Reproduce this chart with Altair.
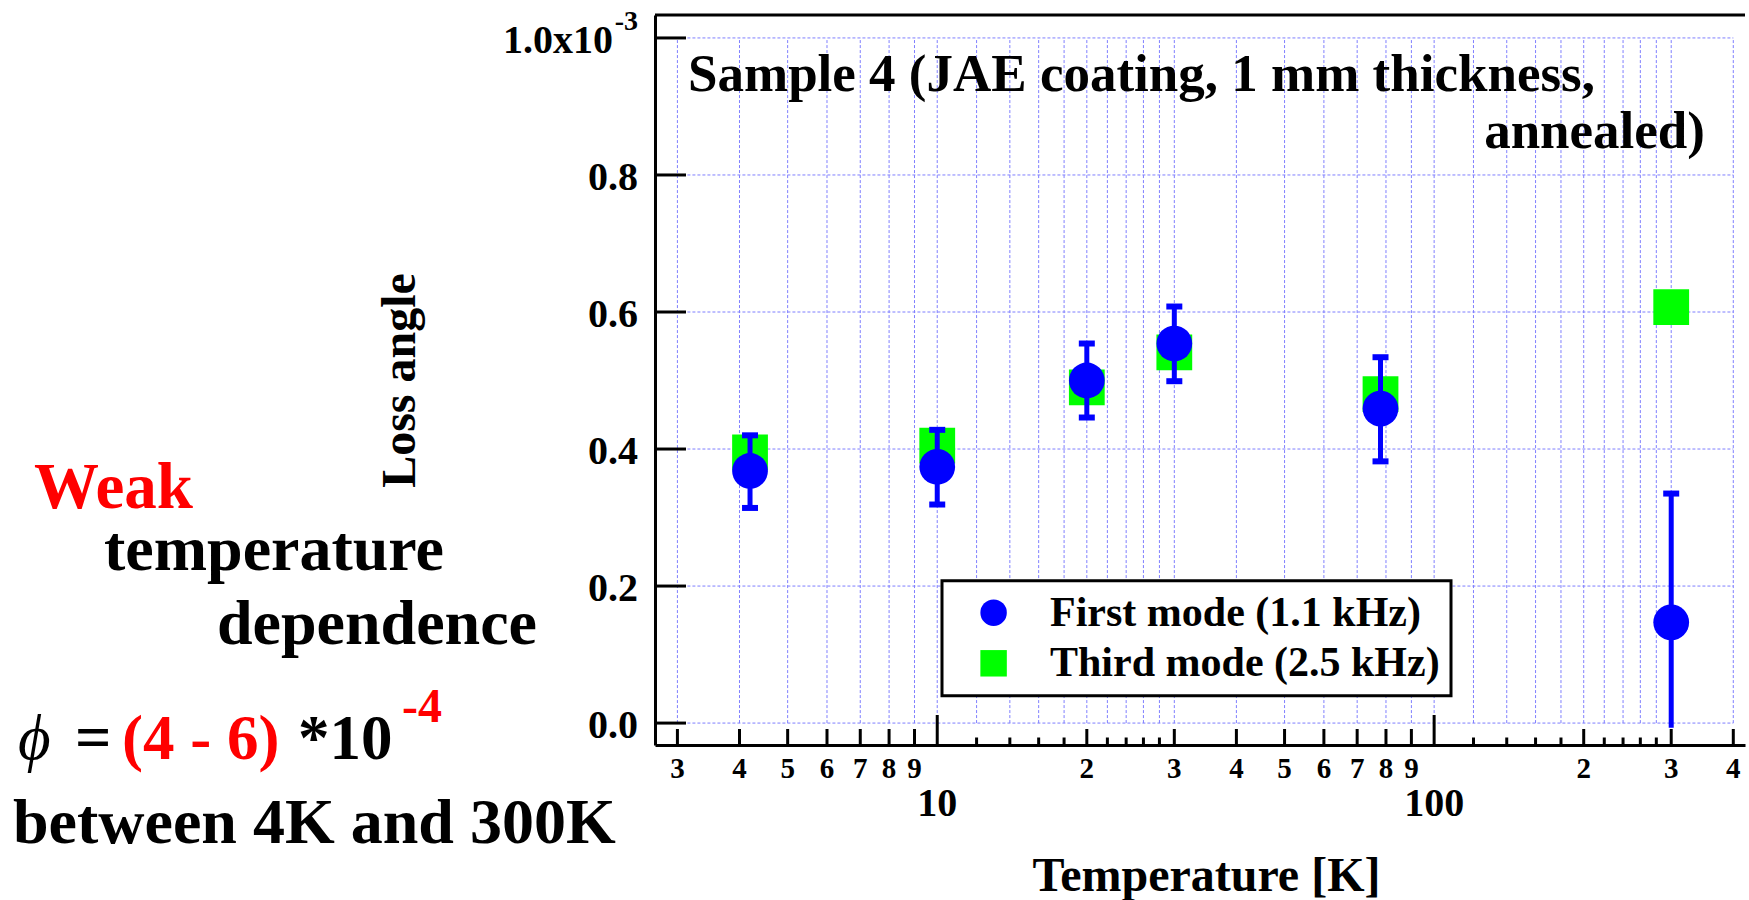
import altair as alt
import pandas as pd

# ---- measured data: loss angle (x 1e-3) versus temperature ----
temperature_k = [4.2, 10, 20, 30, 78, 300]
first_mode = [0.368, 0.374, 0.500, 0.554, 0.459, 0.147]
first_upper = [0.420, 0.428, 0.554, 0.608, 0.534, 0.335]
first_lower = [0.314, 0.319, 0.446, 0.499, 0.382, -0.007]
first_lower_cap = [True, True, True, True, True, False]
third_mode = [0.395, 0.405, 0.490, 0.541, 0.480, 0.607]

series_names = ["First mode (1.1 kHz)", "Third mode (2.5 kHz)"]
series_colors = ["#0000ff", "#00ff00"]
series_shapes = ["circle", "square"]

# ---- axis tick layout (log x axis, linear y axis) ----
decade_ticks = [10, 100]
decade_labels = ["10", "100"]
digit_ticks = [3, 4, 5, 6, 7, 8, 9, 20, 30, 40, 50, 60, 70, 80, 90, 200, 300, 400]
digit_labels = ["3", "4", "5", "6", "7", "8", "9", "2", "3", "4", "5", "6",
                "7", "8", "9", "2", "3", "4"]
fine_ticks = [12, 14, 16, 18, 22, 24, 26, 28, 120, 140, 160, 180, 220, 240, 260, 280]
y_ticks = [0.0, 0.2, 0.4, 0.6, 0.8, 1.0]
y_tick_labels = ["0.0", "0.2", "0.4", "0.6", "0.8"]

W, H = 1090, 730
FONT = "Liberation Serif"
GRID = "#7f7fff"

points = pd.DataFrame({
    "T": temperature_k + temperature_k,
    "loss": third_mode + first_mode,
    "series": [series_names[1]] * len(third_mode) + [series_names[0]] * len(first_mode),
})
errors = pd.DataFrame({"T": temperature_k, "lo": first_lower, "hi": first_upper,
                       "cap": first_lower_cap})
all_x_ticks = pd.DataFrame({"v": decade_ticks + digit_ticks + fine_ticks})
decade_df = pd.DataFrame({"v": decade_ticks, "lab": decade_labels})
digit_df = pd.DataFrame({"v": digit_ticks, "lab": digit_labels})
fine_df = pd.DataFrame({"v": fine_ticks})
y_tick_df = pd.DataFrame({"v": y_ticks})
y_lab_df = pd.DataFrame({"v": y_ticks[:-1], "lab": y_tick_labels})
one = pd.DataFrame({"a": [0]})

xs = alt.Scale(type="log", domain=[2.704, 422.3], nice=False)
ys = alt.Scale(domain=[-0.032, 1.0335], nice=False, zero=False)

x_axis = alt.Axis(title="Temperature [K]", labels=False, ticks=False, grid=False,
                  domain=True, domainColor="black", domainWidth=3,
                  titleFont=FONT, titleFontWeight="bold", titleFontSize=48,
                  titleColor="black", titleX=551, titleY=145,
                  titleBaseline="alphabetic", titleAlign="center")
y_axis = alt.Axis(title="Loss angle", labels=False, ticks=False, grid=False,
                  domain=True, domainColor="black", domainWidth=3,
                  titleFont=FONT, titleFontWeight="bold", titleFontSize=48,
                  titleColor="black", titleX=-241, titleY=365, titleAngle=270,
                  titleBaseline="alphabetic", titleAlign="center")


def X(field, **kw):
    return alt.X(field, type="quantitative", scale=xs, axis=x_axis, **kw)


def Y(field, **kw):
    return alt.Y(field, type="quantitative", scale=ys, axis=y_axis, **kw)


# dashed grid spanning the tick range only
v_grid = alt.Chart(all_x_ticks).mark_rule(color=GRID, strokeWidth=1, strokeDash=[3, 2]).encode(
    x=X("v"), y=alt.Y(datum=0.0, scale=ys, axis=y_axis), y2=alt.Y2(datum=1.0))
h_grid = alt.Chart(y_tick_df).mark_rule(color=GRID, strokeWidth=1, strokeDash=[3, 2]).encode(
    y=Y("v"), x=alt.X(datum=3, scale=xs, axis=x_axis), x2=alt.X2(datum=400))

# inward tick marks
tick_style = dict(color="black", strokeWidth=3)
x_major = alt.Chart(decade_df).mark_rule(**tick_style).encode(
    x=X("v"), y=alt.value(H), y2=alt.value(H - 30))
x_digit = alt.Chart(digit_df).mark_rule(**tick_style).encode(
    x=X("v"), y=alt.value(H), y2=alt.value(H - 16))
x_fine = alt.Chart(fine_df).mark_rule(**tick_style).encode(
    x=X("v"), y=alt.value(H), y2=alt.value(H - 7.5))
y_major = alt.Chart(y_tick_df).mark_rule(**tick_style).encode(
    y=Y("v"), x=alt.value(0), x2=alt.value(31))

# top frame line
top_frame = alt.Chart(one).mark_rule(color="black", strokeWidth=3).encode(
    x=alt.value(0), x2=alt.value(W), y=alt.value(0))

# tick labels
lab_style = dict(font=FONT, fontWeight="bold", color="black")
x_digit_lab = alt.Chart(digit_df).mark_text(fontSize=29, align="center",
                                            baseline="alphabetic", **lab_style).encode(
    x=X("v"), y=alt.value(763.3), text="lab:N")
x_decade_lab = alt.Chart(decade_df).mark_text(fontSize=40, align="center",
                                              baseline="alphabetic", **lab_style).encode(
    x=X("v"), y=alt.value(800.5), text="lab:N")
y_lab = alt.Chart(y_lab_df).mark_text(fontSize=40, align="right", baseline="alphabetic",
                                      dy=15, **lab_style).encode(
    y=Y("v"), x=alt.value(-17), text="lab:N")
y_top_lab = alt.Chart(one).mark_text(text="1.0x10", fontSize=40, align="right",
                                     baseline="alphabetic", dy=14.7, **lab_style).encode(
    y=alt.Y(datum=1.0, scale=ys, axis=y_axis), x=alt.value(-42))
y_top_exp = alt.Chart(one).mark_text(text="-3", fontSize=28, align="right",
                                     baseline="alphabetic", dy=-8.3, **lab_style).encode(
    y=alt.Y(datum=1.0, scale=ys, axis=y_axis), x=alt.value(-17))

# data: markers, error bars and caps
legend = alt.Legend(title=None, orient="none", legendX=287, legendY=565.7)
markers = alt.Chart(points).mark_point(filled=True, size=1280, opacity=1, strokeWidth=0).encode(
    x=X("T"), y=Y("loss"),
    color=alt.Color("series:N", scale=alt.Scale(domain=series_names, range=series_colors),
                    legend=legend),
    shape=alt.Shape("series:N", scale=alt.Scale(domain=series_names, range=series_shapes),
                    legend=legend),
)
bars = alt.Chart(errors).mark_rule(color="#0000ff", strokeWidth=5).encode(
    x=X("T"), y=Y("lo"), y2="hi")
caps_hi = alt.Chart(errors).mark_tick(orient="horizontal", color="#0000ff", size=16,
                                      thickness=6, opacity=1).encode(x=X("T"), y=Y("hi"))
caps_lo = alt.Chart(errors).transform_filter("datum.cap").mark_tick(
    orient="horizontal", color="#0000ff", size=16, thickness=6, opacity=1).encode(
    x=X("T"), y=Y("lo"))

# in-plot heading
heading1 = alt.Chart(one).mark_text(text="Sample 4 (JAE coating, 1 mm thickness,",
                                    fontSize=53, align="left", baseline="alphabetic",
                                    **lab_style).encode(x=alt.value(33), y=alt.value(76))
heading2 = alt.Chart(one).mark_text(text="annealed)", fontSize=53, align="right",
                                    baseline="alphabetic", **lab_style).encode(
    x=alt.value(1050), y=alt.value(133))


# side notes
def note(text, x, y, size, color="black", weight="bold", italic=False):
    extra = {"fontStyle": "italic"} if italic else {}
    return alt.Chart(one).mark_text(text=text, font=FONT, fontSize=size, fontWeight=weight,
                                    color=color, align="left", baseline="alphabetic",
                                    **extra).encode(
        x=alt.value(x), y=alt.value(y))


notes = [
    note("Weak", -621, 493.3, 65, color="#ff0000"),
    note("temperature", -551, 555, 64),
    note("dependence", -438, 629, 64),
    note("\u03d5", -637, 744, 63, weight="normal", italic=True),
    note("=", -580, 744, 64, weight="bold"),
    note("(4 - 6)", -533, 744, 63, color="#ff0000"),
    note("*10", -357, 744, 63),
    note("-4", -253, 707, 48, color="#ff0000"),
    note("between 4K and 300K", -642, 828, 64),
]

chart = alt.layer(
    v_grid, h_grid, x_major, x_digit, x_fine, y_major, top_frame,
    x_digit_lab, x_decade_lab, y_lab, y_top_lab, y_top_exp,
    markers, bars, caps_hi, caps_lo, heading1, heading2, *notes,
).properties(
    width=W, height=H,
    padding={"left": 655, "top": 15, "right": 4, "bottom": 155},
    autosize=alt.AutoSizeParams(type="none"),
    background="white",
).configure_view(
    stroke="transparent"
).configure_legend(
    strokeColor="black", strokeWidth=3, fillColor="white", padding=11,
    symbolSize=700, symbolStrokeWidth=0, symbolOffset=19.6, labelOffset=35.4,
    labelFont=FONT, labelFontWeight="bold", labelFontSize=42, labelColor="black",
    labelLimit=600, rowPadding=8.6,
)

chart.save("out.html", embed_options={"renderer": "svg", "actions": False})
